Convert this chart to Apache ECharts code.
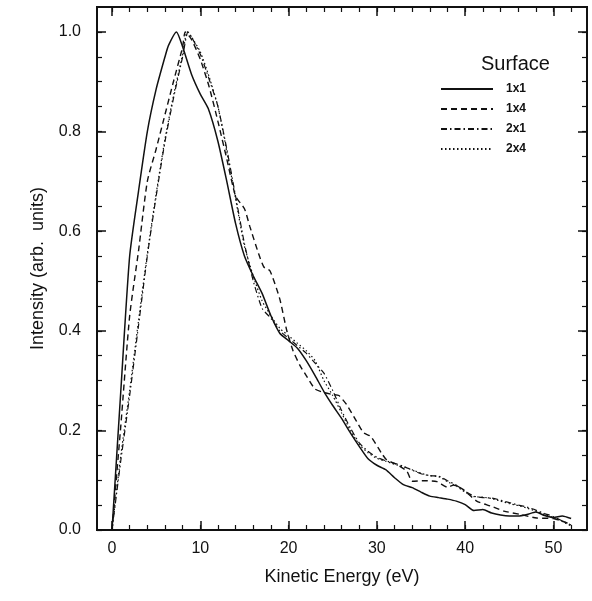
<!DOCTYPE html>
<html>
<head>
<meta charset="utf-8">
<script src="https://cdn.jsdelivr.net/npm/echarts@6/dist/echarts.min.js"></script>
<style>
  html, body { margin: 0; padding: 0; background: #fff; }
  #chart { width: 592px; height: 601px; }
</style>
</head>
<body>
<div id="chart"></div>
<script>
// surface names
var surfaces = ['1x1', '1x4', '2x1', '2x4'];

// 1x1 (solid)
var energy1x1 = [0, 1, 2, 3, 4, 5, 6, 6.4, 7.3, 8, 9, 10, 10.9, 12, 13, 14, 15, 16, 17, 18, 19, 20, 21, 22, 23, 24, 25, 26, 27, 28, 29, 30, 31, 32, 33, 34, 35, 36, 37, 38, 39, 40, 41, 42, 43, 44, 45, 46, 47, 48, 49, 50, 51, 52];
var int1x1 = [0, 0.28, 0.55, 0.68, 0.80, 0.885, 0.95, 0.973, 1.0, 0.97, 0.915, 0.875, 0.846, 0.78, 0.70, 0.615, 0.55, 0.51, 0.475, 0.43, 0.395, 0.38, 0.365, 0.34, 0.31, 0.278, 0.25, 0.224, 0.195, 0.168, 0.143, 0.13, 0.121, 0.105, 0.091, 0.085, 0.076, 0.068, 0.065, 0.062, 0.058, 0.051, 0.039, 0.041, 0.034, 0.030, 0.028, 0.028, 0.031, 0.036, 0.029, 0.025, 0.028, 0.023];

// 1x4 (dashed)
var energy1x4 = [0, 1, 2, 3, 4, 5, 6, 7, 8, 8.3, 9, 10, 11, 12, 13, 14, 15, 15.6, 16.6, 17.2, 17.9, 19, 19.8, 20.5, 21.3, 22, 23, 24, 25, 25.7, 26.6, 27.7, 28.5, 29.3, 30.5, 31.1, 32.3, 33.4, 34, 35.5, 36.8, 38, 38.7, 39.8, 41.3, 42.9, 44.4, 46.3, 48.1, 50, 51.9];
var int1x4 = [0, 0.21, 0.43, 0.56, 0.70, 0.765, 0.834, 0.903, 0.97, 1.0, 0.985, 0.945, 0.89, 0.82, 0.745, 0.67, 0.645, 0.61, 0.555, 0.528, 0.52, 0.464, 0.40, 0.36, 0.33, 0.31, 0.283, 0.276, 0.272, 0.27, 0.251, 0.218, 0.195, 0.188, 0.155, 0.141, 0.131, 0.118, 0.098, 0.099, 0.097, 0.086, 0.090, 0.081, 0.058, 0.048, 0.038, 0.031, 0.024, 0.023, 0.012];

// 2x1 (dash-dot)
var energy2x1 = [0, 1, 2, 3, 4, 5, 6, 7, 8, 8.6, 9, 10, 11, 12, 13, 14, 15, 16, 17, 18, 19, 20, 21, 22, 23, 24, 25, 26, 27, 28, 29, 30, 31, 32, 33, 34, 35, 36, 37, 38, 39, 40, 41, 42, 43, 44, 45, 46, 47, 48, 49, 50, 51, 52];
var int2x1 = [0, 0.14, 0.27, 0.41, 0.55, 0.67, 0.78, 0.87, 0.95, 1.0, 0.99, 0.955, 0.905, 0.85, 0.765, 0.67, 0.575, 0.50, 0.445, 0.425, 0.40, 0.385, 0.37, 0.355, 0.335, 0.315, 0.28, 0.24, 0.205, 0.175, 0.158, 0.146, 0.139, 0.134, 0.128, 0.12, 0.113, 0.109, 0.108, 0.099, 0.09, 0.078, 0.068, 0.065, 0.064, 0.06, 0.055, 0.05, 0.046, 0.04, 0.033, 0.027, 0.018, 0.01];

// 2x4 (dotted)
var energy2x4 = [0, 1, 2, 3, 4, 5, 6, 7, 8, 8.5, 9, 10, 11, 12, 13, 14, 15, 16, 17, 18, 19, 20, 21, 22, 23, 24, 25, 26, 27, 28, 29, 30, 31, 32, 33, 34, 35, 36, 37, 38, 39, 40, 41, 42, 43, 44, 45, 46, 47, 48, 49, 50, 51, 52];
var int2x4 = [0, 0.15, 0.28, 0.42, 0.555, 0.675, 0.785, 0.875, 0.955, 1.0, 0.99, 0.96, 0.91, 0.85, 0.76, 0.665, 0.57, 0.51, 0.46, 0.43, 0.405, 0.39, 0.375, 0.36, 0.34, 0.30, 0.27, 0.235, 0.20, 0.172, 0.155, 0.144, 0.138, 0.132, 0.127, 0.121, 0.114, 0.109, 0.107, 0.097, 0.088, 0.076, 0.067, 0.066, 0.063, 0.058, 0.053, 0.049, 0.044, 0.038, 0.031, 0.025, 0.017, 0.008];

// ticks
var xMajor = [0, 10, 20, 30, 40, 50];
var xMinor = [0, 2, 4, 6, 8, 10, 12, 14, 16, 18, 20, 22, 24, 26, 28, 30, 32, 34, 36, 38, 40, 42, 44, 46, 48, 50, 52];
var yMajor = [0, 0.2, 0.4, 0.6, 0.8, 1.0];
var yMinor = [0, 0.05, 0.1, 0.15, 0.2, 0.25, 0.3, 0.35, 0.4, 0.45, 0.5, 0.55, 0.6, 0.65, 0.7, 0.75, 0.8, 0.85, 0.9, 0.95, 1.0];

var zip = function (xs, ys) {
    var out = [];
    for (var i = 0; i < xs.length; i++) {
        out.push([xs[i], ys[i]]);
    }
    return out;
};

var font = 'Liberation Sans, Arial, Helvetica, sans-serif';
var ink = '#111';

var chart = echarts.init(document.getElementById('chart'), null, { renderer: 'canvas' });

var xBase = { type: 'value', min: -1.7, max: 53.8, splitLine: { show: false },
    axisLine: { show: true, onZero: false, lineStyle: { color: ink, width: 2 } } };
var yBase = { type: 'value', min: 0, max: 1.05, splitLine: { show: false },
    axisLine: { show: true, onZero: false, lineStyle: { color: ink, width: 2 } } };

var mk = function (base, extra) {
    return Object.assign({}, base, extra);
};

var lineSeries = function (name, xs, ys, type, width) {
    return {
        name: name,
        type: 'line',
        data: zip(xs, ys),
        xAxisIndex: 0,
        yAxisIndex: 0,
        showSymbol: false,
        symbol: 'none',
        smooth: 0.2,
        lineStyle: { color: ink, width: width, type: type },
        itemStyle: { color: ink },
        emphasis: { disabled: true }
    };
};

var option = {
    animation: false,
    backgroundColor: '#fff',
    textStyle: { fontFamily: font },
    title: {
        text: 'Surface',
        left: 476,
        top: 49,
        textStyle: { fontFamily: font, fontSize: 20, fontWeight: 'normal', color: ink }
    },
    legend: {
        data: surfaces,
        orient: 'vertical',
        left: 435,
        top: 78,
        itemWidth: 52,
        itemHeight: 14,
        itemGap: 8,
        itemStyle: { opacity: 0 },
        textStyle: { fontFamily: font, fontSize: 12, fontWeight: 'bold', color: ink, padding: [0, 0, 0, 8] }
    },
    grid: { left: 97, right: 5, top: 7, bottom: 71 },
    xAxis: [
        mk(xBase, {
            position: 'bottom',
            name: 'Kinetic Energy (eV)',
            nameLocation: 'middle',
            nameGap: 38,
            nameTextStyle: { fontFamily: font, fontSize: 18, color: ink },
            axisTick: { inside: true, length: 9, lineStyle: { color: ink, width: 1.5 }, customValues: xMajor },
            axisLabel: { customValues: xMajor, fontFamily: font, fontSize: 16, color: ink, margin: 11 }
        }),
        mk(xBase, {
            position: 'bottom',
            axisTick: { inside: true, length: 5, lineStyle: { color: ink, width: 1.2 }, customValues: xMinor },
            axisLabel: { show: false }
        }),
        mk(xBase, {
            position: 'top',
            axisTick: { inside: true, length: 9, lineStyle: { color: ink, width: 1.5 }, customValues: xMajor },
            axisLabel: { show: false }
        }),
        mk(xBase, {
            position: 'top',
            axisTick: { inside: true, length: 5, lineStyle: { color: ink, width: 1.2 }, customValues: xMinor },
            axisLabel: { show: false }
        })
    ],
    yAxis: [
        mk(yBase, {
            position: 'left',
            name: 'Intensity (arb.  units)',
            nameLocation: 'middle',
            nameGap: 50,
            nameTextStyle: { fontFamily: font, fontSize: 18, color: ink },
            axisTick: { inside: true, length: 9, lineStyle: { color: ink, width: 1.5 }, customValues: yMajor },
            axisLabel: { customValues: yMajor, fontFamily: font, fontSize: 16, color: ink, margin: 16,
                formatter: function (v) { return v.toFixed(1); } }
        }),
        mk(yBase, {
            position: 'left',
            axisTick: { inside: true, length: 5, lineStyle: { color: ink, width: 1.2 }, customValues: yMinor },
            axisLabel: { show: false }
        }),
        mk(yBase, {
            position: 'right',
            axisTick: { inside: true, length: 9, lineStyle: { color: ink, width: 1.5 }, customValues: yMajor },
            axisLabel: { show: false }
        }),
        mk(yBase, {
            position: 'right',
            axisTick: { inside: true, length: 5, lineStyle: { color: ink, width: 1.2 }, customValues: yMinor },
            axisLabel: { show: false }
        })
    ],
    series: [
        lineSeries('1x1', energy1x1, int1x1, 'solid', 1.5),
        lineSeries('1x4', energy1x4, int1x4, [6, 4], 1.4),
        lineSeries('2x1', energy2x1, int2x1, [6, 3, 1.5, 3], 1.2),
        lineSeries('2x4', energy2x4, int2x4, [1.5, 2.5], 1.2)
    ]
};

if (option && typeof option === 'object') {
    chart.setOption(option);
}
window.addEventListener('resize', chart.resize);
</script>
</body>
</html>
